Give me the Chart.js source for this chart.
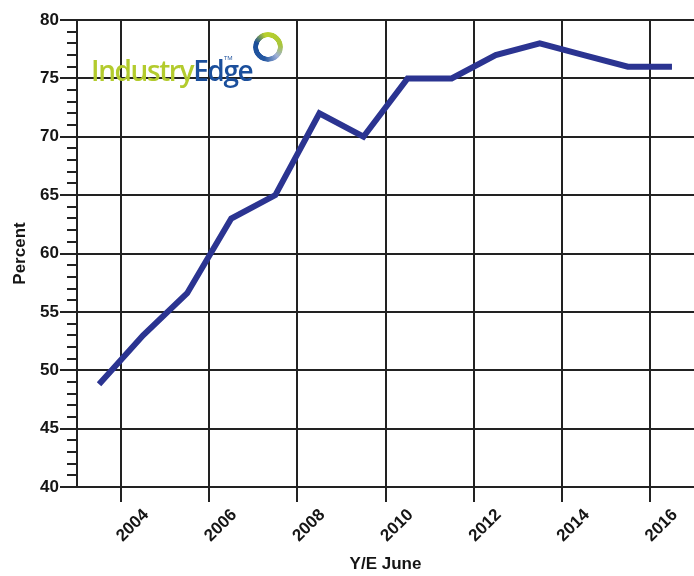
<!DOCTYPE html>
<html>
<head>
<meta charset="utf-8">
<script src="https://cdn.jsdelivr.net/npm/chart.js@4.4.1/dist/chart.umd.min.js"></script>
<style>
  body { margin: 0; background: #fff; }
  #wrap { position: relative; width: 694px; height: 576px; }
  #wrap canvas { position: absolute; left: 0; top: 0; }
  .logo {
    position: absolute; left: 91px; top: 56px;
    font-family: "Open Sans", sans-serif; font-size: 28px; font-weight: 600; line-height: 28px;
    letter-spacing: -1.4px; white-space: nowrap;
  }
  .logo .ind { color: #b3cb2d; }
  .logo .edge { color: #1b4f9c; }
  .tm {
    position: absolute; left: 224px; top: 55px;
    font-family: "Open Sans", sans-serif; font-size: 6px; line-height: 6px; color: #1b4f9c;
  }
  .ring {
    position: absolute; left: 253px; top: 32px; width: 30px; height: 30px; border-radius: 50%;
    background: conic-gradient(#b8d02c 0deg, #a9c63a 80deg, #9fb0d8 135deg, #2558a2 195deg, #1a4d9a 290deg, #b8d02c 345deg);
    -webkit-mask: radial-gradient(circle, transparent 9.5px, #000 10px);
    mask: radial-gradient(circle, transparent 9.5px, #000 10px);
  }
</style>
</head>
<body>
<div id="wrap">
  <canvas id="chart" width="694" height="576"></canvas>
  <div class="logo"><span class="ind">Industry</span><span class="edge">Edge</span></div>
  <div class="tm">TM</div>
  <div class="ring"></div>
</div>
<script>
// financial years ending June
const fyEnd = [2004, 2005, 2006, 2007, 2008, 2009, 2010, 2011, 2012, 2013, 2014, 2015, 2016, 2017];
const percent = [48.8, 53, 56.6, 63, 65, 72, 70, 75, 75, 77, 78, 77, 76, 76];
const yearTicks = [2004, 2006, 2008, 2010, 2012, 2014, 2016];
const percentTicks = [40, 45, 50, 55, 60, 65, 70, 75, 80];

const ink = "#151515";
const gridInk = "#222";
const lineBlue = "#2b3491";
const labelFont = { family: "'Liberation Sans', Arial, sans-serif", size: 17, weight: "bold" };

// short unlabelled ticks on every whole percent
const minorTicks = {
  id: "minorTicks",
  afterDraw(chart) {
    const y = chart.scales.y;
    const ctx = chart.ctx;
    ctx.save();
    ctx.strokeStyle = gridInk;
    ctx.lineWidth = 2;
    for (let v = y.min; v <= y.max; v++) {
      if (percentTicks.includes(v)) continue;
      const py = Math.round(y.getPixelForValue(v));
      ctx.beginPath();
      ctx.moveTo(y.right - 10, py);
      ctx.lineTo(y.right, py);
      ctx.stroke();
    }
    ctx.restore();
  }
};

new Chart(document.getElementById("chart"), {
  type: "line",
  data: {
    datasets: [{
      // each year is plotted at the middle of its financial year
      data: fyEnd.map((fy, i) => ({ x: fy - 0.5, y: percent[i] })),
      borderColor: lineBlue,
      borderWidth: 6,
      borderCapStyle: "butt",
      borderJoinStyle: "miter",
      pointRadius: 0,
      tension: 0,
      fill: false
    }]
  },
  options: {
    responsive: false,
    animation: false,
    layout: { padding: { top: 20, right: 0, left: 0, bottom: 0 } },
    plugins: { legend: { display: false }, tooltip: { enabled: false } },
    scales: {
      x: {
        type: "linear",
        min: 2003,
        max: 2017,
        afterBuildTicks: (scale) => { scale.ticks = yearTicks.map(v => ({ value: v })); },
        afterFit: (scale) => { scale.height = 89; },
        grid: { color: gridInk, lineWidth: 2, tickLength: 15, tickColor: gridInk },
        border: { color: gridInk, width: 2 },
        ticks: {
          color: ink,
          font: labelFont,
          minRotation: 45,
          maxRotation: 45,
          labelOffset: 25,
          padding: 3,
          callback: (v) => String(v)
        },
        title: {
          display: true,
          text: "Y/E June",
          color: ink,
          font: labelFont,
          padding: { top: 0, bottom: 1 }
        }
      },
      y: {
        min: 40,
        max: 80,
        afterBuildTicks: (scale) => { scale.ticks = percentTicks.map(v => ({ value: v })); },
        afterFit: (scale) => { scale.width = 77; },
        grid: { color: gridInk, lineWidth: 2, tickLength: 17, tickColor: gridInk },
        border: { color: gridInk, width: 2 },
        ticks: { color: ink, font: labelFont, padding: 1 },
        title: {
          display: true,
          text: "Percent",
          color: ink,
          font: labelFont,
          padding: { top: 10, bottom: 0 }
        }
      }
    }
  },
  plugins: [minorTicks]
});
</script>
</body>
</html>
